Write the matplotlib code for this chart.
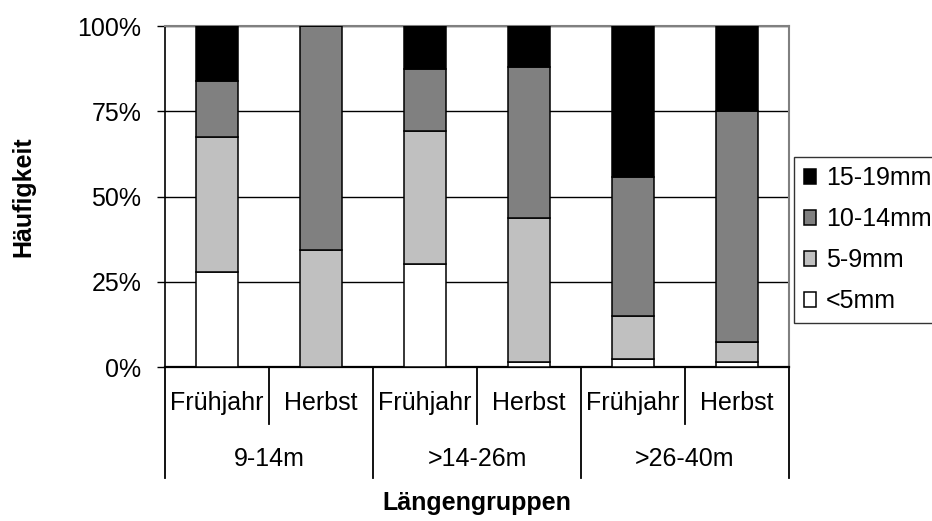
import numpy as np
import matplotlib
matplotlib.use("Agg")
import matplotlib.pyplot as plt
from matplotlib.ticker import PercentFormatter

plt.rcParams['font.family'] = ['Liberation Sans', 'DejaVu Sans']

seasons = ["Frühjahr", "Herbst", "Frühjahr", "Herbst", "Frühjahr", "Herbst"]
groups = ["9-14m", ">14-26m", ">26-40m"]
size_classes = ["<5mm", "5-9mm", "10-14mm", "15-19mm"]

# percentages per bar (bottom to top)
lt5 = [28.0, 0.0, 30.4, 1.6, 2.3, 1.6]
mm5_9 = [39.6, 34.4, 38.9, 42.0, 12.6, 5.9]
mm10_14 = [16.3, 65.6, 18.1, 44.3, 40.8, 67.5]
mm15_19 = [16.1, 0.0, 12.6, 12.1, 44.3, 25.0]

colors = ["#ffffff", "#c0c0c0", "#808080", "#000000"]

fig = plt.figure(figsize=(9.32, 5.21), dpi=100)
ax = fig.add_axes([165 / 932, 1 - 367.3 / 521, 624 / 932, 341.3 / 521])

x = np.arange(len(seasons))
bottom = np.zeros(len(seasons))
handles = []
for vals, col, lab in zip([lt5, mm5_9, mm10_14, mm15_19], colors, size_classes):
    b = ax.bar(x, vals, width=0.41, bottom=bottom, color=col, edgecolor="black",
               linewidth=1.1, label=lab, zorder=3)
    handles.append(b)
    bottom += np.array(vals)

ax.set_xlim(-0.5, len(seasons) - 0.5)
ax.set_ylim(0, 100)
ax.set_yticks([0, 25, 50, 75, 100])
ax.yaxis.set_major_formatter(PercentFormatter(decimals=0))
ax.tick_params(axis="y", labelsize=18, length=6, width=1, pad=11, direction="out")
ax.set_xticks([])
ax.yaxis.grid(True, color="black", linewidth=1.0, zorder=0)
ax.set_axisbelow(True)

ax.spines["left"].set_color("black")
ax.spines["left"].set_linewidth(1.2)
ax.spines["bottom"].set_color("black")
ax.spines["bottom"].set_linewidth(1.6)
ax.spines["top"].set_color("#808080")
ax.spines["top"].set_linewidth(1.5)
ax.spines["right"].set_color("#808080")
ax.spines["right"].set_linewidth(1.5)

# two-level category axis
trans = ax.get_xaxis_transform()
short_y = -57 / 341.3
long_y = -111 / 341.3
for i in range(len(seasons) + 1):
    edge = i - 0.5
    y_end = long_y if i % 2 == 0 else short_y
    ax.plot([edge, edge], [0, y_end], color="black", linewidth=1.3,
            transform=trans, clip_on=False)
for i, s in enumerate(seasons):
    ax.text(i, -36 / 341.3, s, transform=trans, ha="center", va="center", fontsize=18)
for j, g in enumerate(groups):
    ax.text(2 * j + 0.5, -92 / 341.3, g, transform=trans, ha="center", va="center", fontsize=18)

fig.text((165 + 789) / 2 / 932, 1 - 503 / 521, "Längengruppen", ha="center", va="center",
         fontsize=18, fontweight="bold")
fig.text(23 / 932, 1 - 197 / 521, "Häufigkeit", ha="center", va="center", rotation=90,
         fontsize=18, fontweight="bold")

leg = fig.legend(handles[::-1], size_classes[::-1], loc="upper left",
                 bbox_to_anchor=(794 / 932, 1 - 157 / 521), fontsize=18,
                 frameon=True, fancybox=False, edgecolor="black", handlelength=0.5,
                 handleheight=0.5, handletextpad=0.4, labelspacing=0.68,
                 borderpad=0.38, borderaxespad=0)
leg.get_frame().set_linewidth(1.0)

fig.savefig("out.png", dpi=100)
